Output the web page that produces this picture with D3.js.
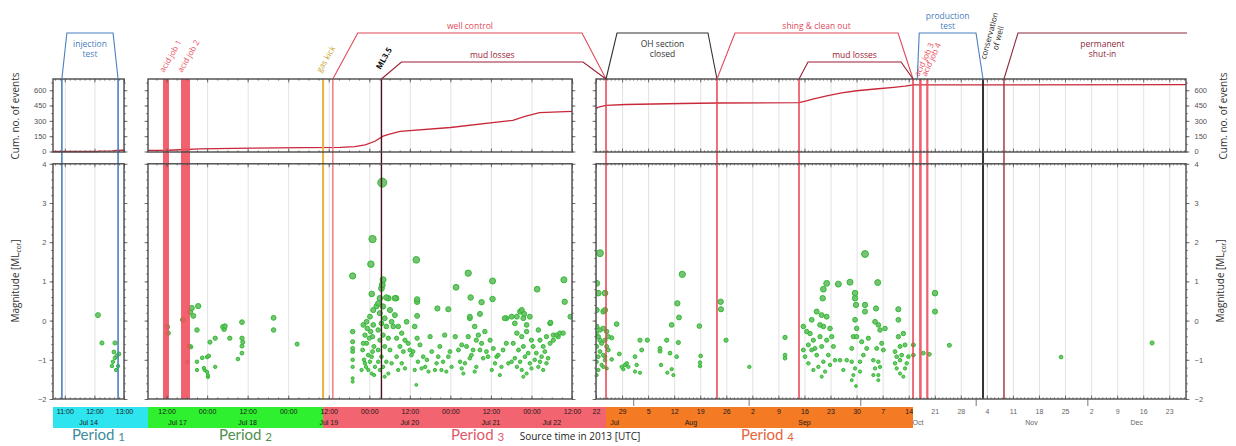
<!DOCTYPE html>
<html>
<head>
<meta charset="utf-8">
<script src="https://cdn.jsdelivr.net/npm/d3@7/dist/d3.min.js"></script>
<style>
html,body{margin:0;padding:0;background:#fff;}
svg{display:block;}
</style>
</head>
<body>
<svg id="chart" width="1236" height="446"></svg>
<script>
// ================= DATA =================
const cumTicks = [0, 150, 300, 450, 600];
const magTicks = [-2, -1, 0, 1, 2, 3, 4];
const periodLabels = ["Period", "Period", "Period", "Period"];
const periodNumbers = ["1", "2", "3", "4"];
const xTitle = "Source time in 2013 [UTC]";

// Period 1: 14 July 2013, decimal hours (UTC)
const p1Range = [10.6, 13.0];
const injectionTest = [10.9, 12.8];
const p1Events = [[12.12,0.14],[12.255,-0.57],[12.695,-0.57],[12.627,-1.05],[12.695,-0.95],[12.76,-0.90],
  [12.80,-1.16],[12.593,-1.16],[12.83,-0.85],[12.73,-1.26],[12.66,-0.80]];
const p1Cum = [[10.6,0],[12.1,0],[12.15,3],[12.6,6],[12.75,10],[12.9,12],[13.0,12]];

// Later periods: decimal day numbers of July 2013 (1.0 = 1 Jul 00:00 UTC, 32 = 1 Aug, ...)
const p2Range = [17.271, 22.5];
const p3Range = [22.0, 180.5];
const acidJobs12 = [[17.456, 17.53], [17.678, 17.789]];
const gasKick = 19.43;
const wellControl = [19.55, 24.69];
const ml35 = 20.15;
const mudLosses1 = [20.15, 24.69];
const ohClosed = [24.69, 54.5];
const fishing = [54.5, 107.17];
const mudLosses2 = [76.54, 107.17];
const productionTest = [108.3, 125.97];
const acidJobs34 = [[108.8, 109.5], [110.7, 111.3]];
const conservation = 125.97;
const shutIn = 131.6;

// [day, magnitude]
const p2Events = [
  [17.89,0.37],[17.81,0.32],[17.79,0.22],[17.83,0.12],[17.70,0.02],[17.51,-0.16],[17.52,-0.32],[17.875,-0.24],[17.78,-0.65],[17.80,-0.67],
  [17.76,-1.05],[17.875,-1.05],[17.94,-0.95],[18.0,-0.93],[18.02,-0.90],[17.875,-1.26],[17.97,-1.26],[18.0,-1.31],[18.01,-1.39],[18.01,-1.44],
  [18.10,-1.18],[17.96,-1.21],[18.035,-0.55],[18.10,-0.45],[18.195,-0.16],[18.22,-0.14],[18.21,-0.22],[18.28,-0.45],[18.43,-0.04],[18.43,-0.45],
  [18.44,-0.55],[18.43,-0.65],[18.43,-0.83],[18.38,-0.98],[18.82,0.07],[18.82,-0.24],[19.11,-0.60],
  [20.16,3.52],[20.04,2.08],[20.02,1.44],[19.795,1.14],[20.58,1.55],[21.22,1.21],[21.52,1.01],[22.40,1.04],[22.07,0.80],[21.07,0.85],
  [20.17,1.04],[20.16,0.91],[20.15,0.82],[20.03,0.68],[20.59,0.54],[20.59,0.48],[20.33,0.57],[20.21,0.59],[21.25,0.59],[21.385,0.47],
  [21.52,0.55],[22.41,0.48],[22.48,0.10],[20.84,0.31],[20.975,0.29],[20.09,0.37],[20.59,0.12],[21.24,0.10],[21.365,0.17],[21.88,0.27],
  [21.82,0.10],[21.91,0.17],[21.69,0.06],[22.235,-0.05],
  [19.795,-0.28],[19.795,-0.54],[19.795,-0.71],[19.795,-0.79],[19.795,-1.00],[19.795,-1.18],[19.795,-1.47],[19.795,-1.56],
  [19.926,-0.11],[19.947,-0.37],[19.967,-0.58],[19.918,-0.75],[19.988,-0.88],[20.008,-1.05],[19.96,-1.18],[20.029,-1.35],[20.049,0.27],[20.008,0.10],
  [19.975,-0.20],[20.04,-0.41],[20.057,-0.66],[20.0,-0.45],[19.935,-1.00],[20.029,-0.92],[20.07,-1.18],[19.905,-1.26],[20.016,-0.28],[19.967,-0.03],
  [20.049,-0.11],[19.926,-0.58],[20.04,-0.79],[19.988,-1.26],[20.06,-1.39],[19.947,-1.09],
  [20.11,0.44],[20.17,0.36],[20.235,0.57],[20.13,0.19],[20.19,0.06],[20.255,0.27],[20.15,-0.07],[20.21,-0.15],[20.11,-0.24],[20.275,-0.03],
  [20.17,-0.37],[20.13,-0.50],[20.235,-0.45],[20.19,-0.66],[20.11,-0.75],[20.255,-0.75],[20.15,-0.92],[20.21,-1.05],[20.17,-1.18],[20.13,-1.26],
  [20.235,-1.35],[20.19,-1.43],[20.275,-1.09],[20.11,-1.05],[20.296,-0.15],[20.316,0.57],[20.13,0.57],
  [20.316,0.14],[20.357,-0.15],[20.40,-0.32],[20.337,-0.45],[20.44,-0.50],[20.48,-0.58],[20.378,-0.66],[20.46,-0.03],[20.42,-0.79],[20.337,-0.92],
  [20.50,-0.75],[20.40,-1.09],[20.44,-1.22],[20.357,-1.26],[20.52,-0.88],[20.58,-1.64],
  [20.56,-0.15],[20.59,-0.45],[20.625,-0.62],[20.54,-0.79],[20.665,-0.92],[20.60,-1.05],[20.71,-1.00],[20.645,-1.22],[20.75,-0.41],[20.69,-1.18],
  [20.56,-1.26],[20.73,-1.30],
  [20.77,-0.79],[20.83,-1.09],[20.91,-1.05],[20.87,-0.66],[20.93,-0.37],[20.975,-0.92],[20.81,-1.26],[20.95,-1.30],[20.995,-0.79],[20.89,-1.26],
  [20.85,-0.92],[21.015,-1.18],
  [21.06,-0.41],[21.10,-0.75],[21.14,-0.62],[21.20,-0.66],[21.18,-1.09],[21.14,-1.22],[21.24,-0.96],[21.28,-0.75],[21.32,-0.50],[21.22,-0.41],
  [21.16,-1.35],[21.30,-1.30],[21.26,-0.88],[21.12,-1.05],[21.32,-1.18],[21.24,0.06],[21.30,-0.15],
  [21.345,-0.37],[21.385,-0.58],[21.425,-0.28],[21.365,-0.75],[21.405,-0.96],[21.445,-0.79],[21.49,-0.50],[21.53,-0.71],[21.55,-1.09],[21.51,-1.26],
  [21.465,-0.92],[21.57,-0.92],
  [21.59,-0.88],[21.63,-1.18],[21.65,-0.75],[21.69,-0.58],[21.61,-1.39],[21.715,-1.09],[21.67,0.06],
  [21.755,0.10],[21.795,-0.07],[21.86,0.23],[21.90,0.06],[21.94,-0.11],[21.98,0.10],[21.82,-0.32],[21.88,-0.41],[21.94,-0.28],[22.0,-0.50],
  [21.775,-0.58],[21.84,-0.75],[21.90,-0.66],[21.96,-0.83],[22.02,-0.66],[21.795,-0.96],[21.86,-1.05],[21.92,-0.92],[21.98,-1.09],[22.04,-1.00],
  [21.82,-1.18],[21.88,-1.26],[21.94,-1.35],[22.0,-1.22],[21.755,-1.05],[22.06,-0.83],[21.90,-1.43],[22.085,-0.24],
  [22.105,-0.50],[22.145,-0.66],[22.185,-0.41],[22.23,-0.58],[22.27,-0.37],[22.31,-0.37],[22.35,-0.32],[22.39,-0.32],[22.125,-0.92],[22.165,-0.79],
  [22.205,-0.96],[22.085,-1.18],[22.145,-1.26],[22.23,-0.07],[22.105,-1.05],[22.27,-0.50],[22.33,-0.41],[22.185,-1.09]
];
const p2Cum = [[17.271,10],[17.52,12],[17.67,17],[17.91,25],[18.53,33],[19.15,38],[19.64,40],[19.82,48],[19.95,65],
  [20.07,100],[20.17,150],[20.25,170],[20.38,197],[21.0,235],[21.77,305],[21.92,345],[22.10,380],[22.5,393]];

const p3Events = [
  [23.07,1.72],[22.18,0.95],[22.63,0.70],[24.42,0.70],[22.18,0.27],[23.97,0.23],[24.42,0.27],
  [22.18,-0.15],[23.07,-0.24],[23.97,-0.20],[24.87,-0.28],[22.63,-0.41],[24.42,-0.50],[23.52,-0.58],[22.18,-0.66],[24.87,-0.66],[23.07,-0.79],
  [23.97,-0.88],[22.63,-0.92],[25.31,-0.75],[22.18,-1.05],[24.42,-1.01],[23.52,-1.13],[24.87,-1.22],[22.63,-1.26],[22.18,-1.39],[23.97,-1.18],
  [23.07,-0.50],[22.05,-0.33],[25.31,-0.41],[24.42,-0.92],
  [27.55,-0.09],[26.21,-0.44],[28.27,-0.85],[26.21,-0.99],[28.90,-1.18],[29.34,-1.24],[29.79,-1.13],[30.24,-1.09],[30.69,-1.18],[32.48,-0.92],
  [32.93,-1.13],[32.48,-1.30],[33.82,-1.33],[33.82,-0.50],[35.79,-0.50],[34.27,-0.75],[39.19,-0.71],[39.19,-0.78],[39.46,-1.13],[40.99,-0.50],
  [41.88,-0.83],[42.33,-1.24],[41.17,-1.33],[42.78,-1.39],[43.67,-0.92],[44.12,-0.56],[43.85,0.44],[44.30,0.08],[42.33,-0.11],[45.19,1.18],
  [49.76,-0.14],[50.12,-0.90],[49.94,-1.07],[49.94,-1.16],[55.49,0.48],[55.58,0.29],[56.93,-0.50],[63.20,-1.18],[72.78,-0.43],[72.78,-0.88],[72.78,-0.96],
  [94.27,1.70],[83.97,0.95],[87.11,0.93],[90.24,0.98],[97.68,0.97],[83.08,0.80],[82.9,0.57],[91.59,0.70],[91.59,0.57],[91.85,0.40],
  [94.27,0.40],[94.27,0.23],[97.23,0.31],[103.23,0.29],[103.23,0.02],[113.08,0.70],[113.08,0.23],[116.93,-0.63],
  [77.70,-0.15],[78.6,-0.28],[79.94,0.02],[81.29,0.23],[82.63,0.14],[83.97,0.10],[83.08,-0.15],[82.18,-0.41],[80.39,-0.50],[79.05,-0.62],
  [77.70,-0.75],[79.94,-0.75],[81.29,-0.88],[82.63,-0.66],[83.97,-0.50],[85.32,-0.41],[85.77,-0.66],[84.42,-0.88],[83.08,-1.05],[81.74,-1.18],
  [80.39,-1.26],[79.05,-1.09],[78.15,-0.92],[83.53,-1.30],[82.63,-1.43],[84.87,-1.13],[86.21,-1.01],[80.84,-0.71],[79.5,-0.33],[82.18,-0.11],[84.87,-0.20],
  [87.56,-1.01],[88.45,-1.26],[89.35,-1.01],[90.69,-0.71],[91.14,-0.41],[92.03,-0.41],[91.59,0.02],[92.03,-0.20],[90.69,-1.05],[92.93,-1.05],
  [93.83,-0.88],[94.72,-0.71],[93.38,-0.54],[95.17,-0.45],[91.59,-1.22],[92.93,-1.30],[91.14,-1.39],[90.69,-1.52],[91.85,-1.67],
  [96.96,-0.03],[97.85,-0.11],[98.30,-0.24],[99.65,-0.20],[98.75,-0.58],[97.41,-0.71],[96.51,-1.01],[97.85,-1.05],[96.96,-1.22],[98.30,-1.18],
  [99.2,-0.75],[97.85,-1.39],[96.51,-1.39],[97.85,-1.52],
  [102.33,-0.79],[103.23,-0.41],[103.68,-0.66],[102.78,-0.92],[104.12,-0.88],[104.57,-0.33],[105.02,-0.62],[103.68,-1.01],[102.33,-1.09],[105.02,-1.22],
  [103.68,-1.35],[104.57,-1.43],[105.47,-1.09],[102.78,-1.22],[105.92,-0.92],[107.26,-0.62],[107.26,-0.88],[111.56,-0.86],[109.95,-0.83],
  [146.93,-0.93],[171.38,-0.57]
];
const p3Cum = [[22.0,415],[22.5,432],[23.5,442],[24.7,452],[30,460],[45,470],[54.5,475],[76.5,478],[78,492],[80.5,515],
  [84,545],[88,575],[92,595],[97,612],[102,628],[105,640],[107.2,652],[180.5,655]];

// ================= CHART =================
const svg = d3.select('#chart');
const FONT = "'Liberation Sans', Arial, sans-serif";
const AFONT = "'Open Sans', 'Liberation Sans', sans-serif";
const PFONT = "Lato, 'Open Sans', sans-serif";

const hourDate = h => new Date(Date.UTC(2013, 6, 14) + h * 3600e3);
const dayDate = d => new Date(Date.UTC(2013, 6, 1) + (d - 1) * 86400e3);

const CT = 79, CB = 152, MT = 163.8, MB = 399;
const BAND_T = 407, BAND_B = 428;

const x1 = d3.scaleUtc().domain(p1Range.map(hourDate)).range([53, 124]);
const x2 = d3.scaleUtc().domain(p2Range.map(dayDate)).range([148, 572]);
const x3 = d3.scaleUtc().domain(p3Range.map(dayDate)).range([596, 1186]);
const yCum = d3.scaleLinear().domain([-5, 710]).range([CB, CT]);
const yMag = d3.scaleLinear().domain([-2, 4]).range([MB, MT]);
const xDay = d => (d <= p2Range[1] ? x2 : x3)(dayDate(d));
const endPlus = (s) => new Date(+s.domain()[1] + 1);

const panels = [
  { x: x1, toDate: hourDate, events: p1Events, cum: p1Cum,
    major: d3.utcHour.range(x1.domain()[0], endPlus(x1)),
    minor: d3.utcMinute.every(10).range(x1.domain()[0], endPlus(x1)),
    fmt: d3.utcFormat('%H:%M'), group: d3.utcDay, groupFmt: d3.utcFormat('%b %d') },
  { x: x2, toDate: dayDate, events: p2Events, cum: p2Cum,
    major: d3.utcHour.every(12).range(x2.domain()[0], endPlus(x2)),
    minor: d3.utcHour.every(3).range(x2.domain()[0], endPlus(x2)),
    fmt: d3.utcFormat('%H:%M'), group: d3.utcDay, groupFmt: d3.utcFormat('%b %d') },
  { x: x3, toDate: dayDate, events: p3Events, cum: p3Cum,
    major: d3.utcMonday.range(x3.domain()[0], endPlus(x3)),
    minor: d3.utcDay.range(x3.domain()[0], endPlus(x3)),
    fmt: d3.utcFormat('%-d'), group: d3.utcMonth, groupFmt: d3.utcFormat('%b') }
];

// ---- period bands (bottom) ----
const periodEdges = [
  [x1(hourDate(p1Range[0])), x2(dayDate(p2Range[0]))],
  [x2(dayDate(p2Range[0])), xDay(gasKick)],
  [xDay(gasKick), xDay(wellControl[1])],
  [xDay(wellControl[1]), xDay(fishing[1])]
];
const bandColors = ['#2ee4ee', '#2ef02e', '#f2646f', '#f57a24'];
const periodTextColors = ['#3d8c9a', '#4f8f4f', '#e05868', '#e8643a'];
const periodOffsets = [-2, 10, 13, 8];
periodEdges.forEach((e, i) => {
  svg.append('rect').attr('x', e[0]).attr('y', BAND_T).attr('width', e[1] - e[0])
    .attr('height', BAND_B - BAND_T).attr('fill', bandColors[i]);
  const t = svg.append('text').attr('x', (e[0] + e[1]) / 2 + periodOffsets[i]).attr('y', 439.5)
    .attr('text-anchor', 'middle').attr('font-family', PFONT).attr('font-size', 15)
    .attr('fill', periodTextColors[i]);
  t.append('tspan').text(periodLabels[i] + ' ');
  t.append('tspan').attr('font-size', 11.5).attr('dy', 1.5).text(periodNumbers[i]);
});
svg.append('text').attr('x', 580).attr('y', 440).attr('text-anchor', 'middle')
  .attr('font-family', AFONT).attr('font-size', 10).attr('fill', '#222').text(xTitle);

// ---- panels ----
panels.forEach((P, i) => {
  const [xa, xb] = P.x.range();
  const g = svg.append('g');
  const cid = 'clip' + i;
  svg.append('clipPath').attr('id', cid).append('rect')
    .attr('x', xa).attr('y', CT).attr('width', xb - xa).attr('height', MB - CT);

  // grid
  [[CT, CB], [MT, MB]].forEach(([t, b]) => {
    g.append('g').attr('transform', `translate(0,${b})`)
      .call(d3.axisBottom(P.x).tickValues(P.major).tickSize(-(b - t)).tickFormat(''))
      .call(s => s.select('.domain').remove())
      .selectAll('line').attr('stroke', '#dadada').attr('stroke-width', 0.8);
  });
  P.gData = svg.append('g').attr('clip-path', `url(#${cid})`);
});

// ---- event bands & lines ----
function vband(xa, xb, color) {
  svg.append('rect').attr('x', xa).attr('y', CT).attr('width', Math.max(1.5, xb - xa))
    .attr('height', MB - CT).attr('fill', color).attr('opacity', 0.9);
}
function vline(x, color, w) {
  svg.append('line').attr('x1', x).attr('x2', x).attr('y1', CT).attr('y2', MB)
    .attr('stroke', color).attr('stroke-width', w);
}
vline(x1(hourDate(injectionTest[0])), '#4a7fc1', 1.6);
vline(x1(hourDate(injectionTest[1])), '#4a7fc1', 1.6);
acidJobs12.forEach(a => vband(xDay(a[0]), xDay(a[1]), '#f0505e'));
vline(xDay(gasKick), '#e8b440', 2);
vline(xDay(wellControl[0]), '#f0838c', 1.6);
vline(xDay(ml35), '#4a0f1e', 1.4);
vline(xDay(wellControl[1]), '#e8404f', 1.5);
vline(xDay(ohClosed[1]), '#e8404f', 1.5);
vline(xDay(mudLosses2[0]), '#e8404f', 1.5);
vline(xDay(fishing[1]), '#e8404f', 1.5);
acidJobs34.forEach(a => vband(xDay(a[0]), xDay(a[1]), '#f0505e'));
vline(xDay(conservation), '#333', 2);
vline(xDay(shutIn), '#a8384a', 1.5);

// ---- cum lines & scatter ----
const rOf = m => Math.max(1.3, 1.8 + 0.6 * (m + 1));
panels.forEach((P, i) => {
  const line = d3.line().x(d => P.x(P.toDate(d[0]))).y(d => yCum(d[1]));
  P.gData.append('path').datum(P.cum).attr('d', line).attr('fill', 'none')
    .attr('stroke', '#c8283a').attr('stroke-width', 1.3);
  const sorted = P.events.slice().sort((a, b) => a[1] - b[1]);
  P.gData.selectAll('circle').data(sorted).join('circle')
    .attr('cx', d => P.x(P.toDate(d[0]))).attr('cy', d => yMag(d[1]))
    .attr('r', d => rOf(d[1]))
    .attr('fill', '#6cb86c').attr('fill-opacity', 0.9)
    .attr('stroke', '#2bbf2b').attr('stroke-width', 1);
});

// ---- frames, ticks, labels ----
function styleAxis(s) {
  s.select('.domain').remove();
  s.selectAll('line').attr('stroke', '#555').attr('stroke-width', 0.8);
  s.selectAll('text').attr('font-family', FONT).attr('font-size', 7.5).attr('fill', '#555');
}
panels.forEach((P, i) => {
  const [xa, xb] = P.x.range();
  [[CT, CB, yCum, cumTicks, d3.range(0, 701, 75)], [MT, MB, yMag, magTicks, d3.range(-2, 4.001, 0.2)]]
    .forEach(([t, b, ys, ticks, minor]) => {
      const leftLab = i === 0;
      const rightLab = i === 2;
      svg.append('g').attr('transform', `translate(${xa},0)`)
        .call(d3.axisLeft(ys).tickValues(minor).tickSize(1.8).tickFormat(''))
        .call(s => styleAxis(s));
      svg.append('g').attr('transform', `translate(${xa},0)`)
        .call(d3.axisLeft(ys).tickValues(ticks).tickSize(3.5).tickPadding(3)
          .tickFormat(leftLab ? d3.format('d') : ''))
        .call(s => styleAxis(s));
      svg.append('g').attr('transform', `translate(${xb},0)`)
        .call(d3.axisRight(ys).tickValues(minor).tickSize(1.8).tickFormat(''))
        .call(s => styleAxis(s));
      svg.append('g').attr('transform', `translate(${xb},0)`)
        .call(d3.axisRight(ys).tickValues(ticks).tickSize(3.5).tickPadding(5)
          .tickFormat(rightLab ? d3.format('d') : ''))
        .call(s => styleAxis(s));
      svg.append('g').attr('transform', `translate(0,${t})`)
        .call(d3.axisTop(P.x).tickValues(P.minor).tickSize(-1.6).tickFormat('')).call(s => styleAxis(s));
      svg.append('g').attr('transform', `translate(0,${t})`)
        .call(d3.axisTop(P.x).tickValues(P.major).tickSize(-3.5).tickFormat('')).call(s => styleAxis(s));
      svg.append('g').attr('transform', `translate(0,${b})`)
        .call(d3.axisBottom(P.x).tickValues(P.minor).tickSize(-1.6).tickFormat('')).call(s => styleAxis(s));
      svg.append('g').attr('transform', `translate(0,${b})`)
        .call(d3.axisBottom(P.x).tickValues(P.major).tickSize(-3.5).tickFormat('')).call(s => styleAxis(s));
      svg.append('rect').attr('x', xa).attr('y', t).attr('width', xb - xa).attr('height', b - t)
        .attr('fill', 'none').attr('stroke', '#4a4a4a').attr('stroke-width', 1.4);
    });

  const p4End = periodEdges[3][1];
  const labAxis = svg.append('g').attr('transform', `translate(0,${MB})`)
    .call(d3.axisBottom(P.x).tickValues(P.major).tickSize(0).tickPadding(10).tickFormat(P.fmt));
  labAxis.select('.domain').remove();
  labAxis.selectAll('text').attr('font-family', FONT).attr('font-size', 7)
    .attr('fill', function (d) { return P.x(d) > p4End + 4 ? '#666' : '#1a1a1a'; });
  if (i === 2) {
    svg.append('g').attr('transform', `translate(0,${MB})`)
      .call(d3.axisBottom(P.x).tickValues(d3.utcMonth.range(P.x.domain()[0], endPlus(P.x))).tickSize(7).tickFormat(''))
      .call(s => styleAxis(s));
  }
  const [d0, d1] = P.x.domain();
  const groups = P.group.range(P.group.floor(d0), d1);
  groups.forEach(gs => {
    const ge = P.group.offset(gs, 1);
    const a = gs < d0 ? d0 : gs, b = ge > d1 ? d1 : ge;
    const cx = (P.x(a) + P.x(b)) / 2;
    svg.append('text').attr('x', cx).attr('y', 424.5).attr('text-anchor', 'middle')
      .attr('font-family', FONT).attr('font-size', 7)
      .attr('fill', cx > p4End + 4 ? '#666' : '#1a1a1a').text(P.groupFmt(gs));
  });
});

// ---- axis titles ----
function vtitle(x, y, build) {
  const t = svg.append('text').attr('transform', `translate(${x},${y}) rotate(-90)`)
    .attr('text-anchor', 'middle').attr('font-family', AFONT).attr('font-size', 10).attr('fill', '#333');
  build(t);
}
const cumTitle = t => t.text('Cum. no. of events');
const magTitle = t => {
  t.append('tspan').text('Magnitude [ML');
  t.append('tspan').attr('font-size', 6.5).attr('dy', 2).text('cor');
  t.append('tspan').attr('dy', -2).text(']');
};
vtitle(19, 116, cumTitle);
vtitle(19, 281, magTitle);
vtitle(1227, 116, cumTitle);
vtitle(1224, 281, magTitle);

// ---- top annotations ----
const brackets = [
  { lines: ['injection', 'test'], a: x1(hourDate(injectionTest[0])), b: x1(hourDate(injectionTest[1])), top: 33, da: 5, db: 5, color: '#4a7fc1', pos: 'inside' },
  { lines: ['well control'], a: xDay(wellControl[0]), b: xDay(wellControl[1]), top: 33, da: 25, db: 24, color: '#e04a5a', pos: 'above' },
  { lines: ['mud losses'], a: xDay(mudLosses1[0]), b: xDay(mudLosses1[1]), top: 62, da: 20, db: 23, color: '#9c1c34', pos: 'above' },
  { lines: ['OH section', 'closed'], a: xDay(ohClosed[0]), b: xDay(ohClosed[1]), top: 33, da: 11, db: 9, color: '#333', pos: 'inside' },
  { lines: ['shing & clean out'], a: xDay(fishing[0]), b: xDay(fishing[1]), top: 33, da: 18, db: 15, color: '#e04a5a', pos: 'above' },
  { lines: ['mud losses'], a: xDay(mudLosses2[0]), b: xDay(mudLosses2[1]), top: 62, da: 9, db: 12, color: '#9c1c34', pos: 'above' },
  { lines: ['production', 'test'], a: xDay(productionTest[0]), b: xDay(productionTest[1]), top: 33, da: 2, db: 7, color: '#4a7fc1', pos: 'above' },
  { lines: ['permanent', 'shut-in'], a: xDay(shutIn), b: x3.range()[1] + 1, top: 33, da: 14, db: 0, color: '#8e2a3c', pos: 'inside', open: true }
];
brackets.forEach(B => {
  const pts = B.open
    ? [[B.a, CT], [B.a + B.da, B.top], [B.b, B.top]]
    : [[B.a, CT], [B.a + B.da, B.top], [B.b - B.db, B.top], [B.b, CT]];
  svg.append('path').attr('d', d3.line()(pts)).attr('fill', 'none')
    .attr('stroke', B.color).attr('stroke-width', 1.1);
  const cx = (B.a + B.da + B.b - B.db) / 2;
  const n = B.lines.length;
  B.lines.forEach((l, k) => {
    const y = B.pos === 'inside' ? B.top + 14 + k * 10 : B.top - 4 - (n - 1 - k) * 10.5;
    svg.append('text').attr('x', cx).attr('y', y).attr('text-anchor', 'middle')
      .attr('font-family', AFONT).attr('font-size', 8.5).attr('fill', B.color).text(l);
  });
});

const rotLabels = [
  { lines: ['acid job 1'], x: xDay(acidJobs12[0][0]) + 1, y: 73, ang: -60, color: '#e8505e' },
  { lines: ['acid job 2'], x: xDay(acidJobs12[1][0]) + 1, y: 73, ang: -60, color: '#e8505e' },
  { lines: ['gas kick'], x: xDay(gasKick) - 2, y: 73, ang: -60, color: '#c9a62e' },
  { lines: ['ML3.5'], x: xDay(ml35) - 1, y: 70, ang: -60, color: '#111', weight: 'bold' },
  { lines: ['acid job 3'], x: xDay(acidJobs34[0][0]), y: 77, ang: -65, color: '#e8505e' },
  { lines: ['acid job 4'], x: xDay(acidJobs34[1][0]), y: 77, ang: -65, color: '#e8505e' },
  { lines: ['conservation', 'of well'], x: xDay(conservation) + 11, y: 37, ang: -75, color: '#222', anchor: 'middle' }
];
rotLabels.forEach(R => {
  const t = svg.append('text').attr('transform', `translate(${R.x},${R.y}) rotate(${R.ang})`)
    .attr('text-anchor', R.anchor || 'start').attr('font-family', AFONT).attr('font-size', 8)
    .attr('font-weight', R.weight || 'normal').attr('fill', R.color);
  R.lines.forEach((l, k) => {
    t.append('tspan').attr('x', 0).attr('dy', k === 0 ? (R.lines.length > 1 ? -2 : 0) : 9).text(l);
  });
});
</script>
</body>
</html>
